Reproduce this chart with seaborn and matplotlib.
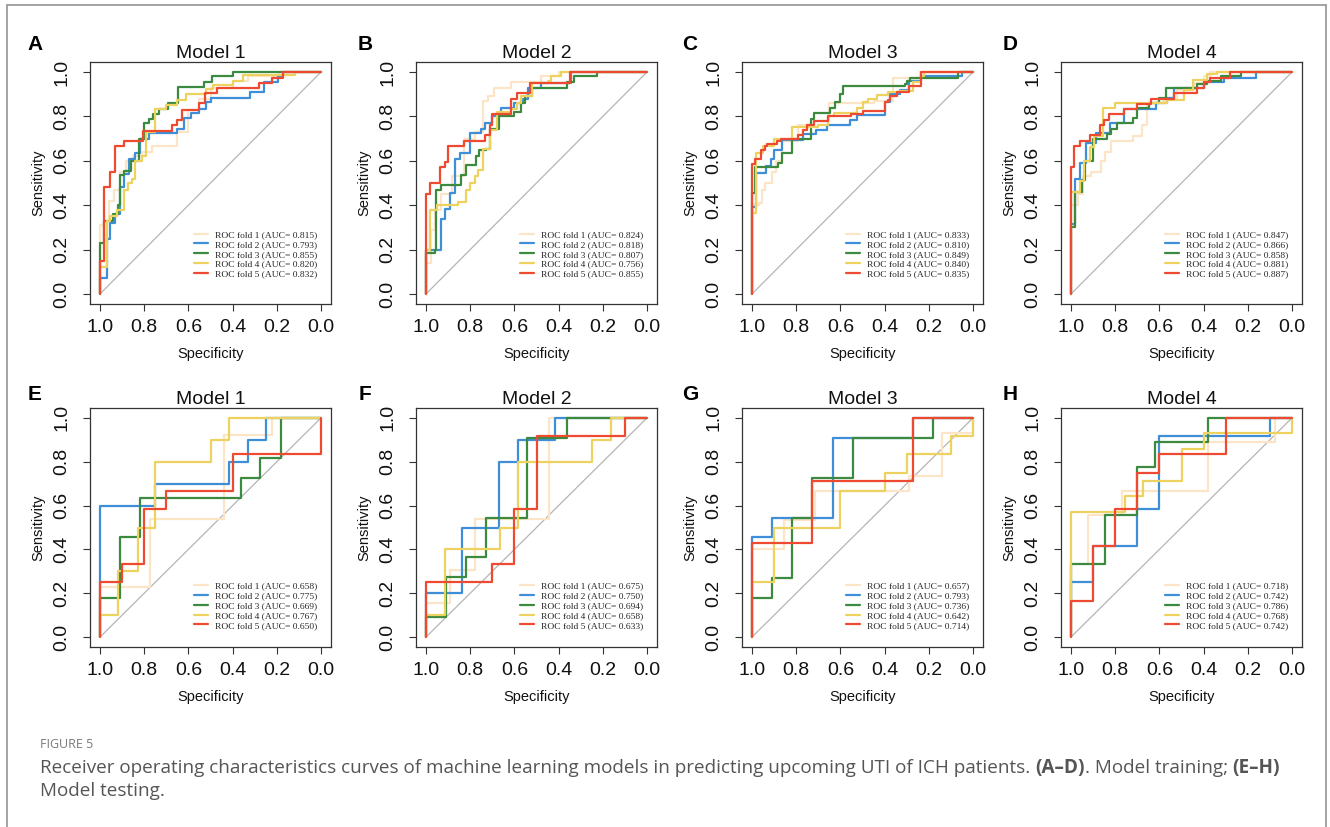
import matplotlib
matplotlib.use("Agg")
import matplotlib.pyplot as plt
import seaborn as sns
import pandas as pd
from matplotlib.lines import Line2D
from matplotlib.font_manager import FontProperties

# ROC step curves: each fold is a list of (specificity, sensitivity) corners,
# sensitivity level held until that specificity (curve starts at (1, 0))
A_steps = [
    [(0.98, 0.31), (0.96, 0.33), (0.935, 0.42), (0.91, 0.47), (0.88, 0.55), (0.85, 0.6), (0.81, 0.62),
     (0.765, 0.64), (0.65, 0.665), (0.6, 0.73), (0.55, 0.83), (0.5, 0.88), (0.4, 0.93), (0.33, 0.96),
     (0.19, 0.98), (0, 1)],
    [(0.97, 0.07), (0.955, 0.25), (0.93, 0.32), (0.91, 0.36), (0.89, 0.48), (0.87, 0.54), (0.84, 0.61),
     (0.82, 0.635), (0.78, 0.7), (0.65, 0.725), (0.62, 0.745), (0.59, 0.795), (0.55, 0.815), (0.52, 0.835),
     (0.5, 0.865), (0.32, 0.885), (0.26, 0.91), (0.195, 0.955), (0.17, 0.98), (0, 1)],
    [(0.98, 0.23), (0.94, 0.33), (0.92, 0.36), (0.91, 0.4), (0.89, 0.535), (0.86, 0.555), (0.825, 0.6),
     (0.8, 0.7), (0.78, 0.77), (0.76, 0.79), (0.735, 0.81), (0.69, 0.835), (0.645, 0.86), (0.53, 0.933),
     (0.495, 0.957), (0.4, 0.98), (0, 1)],
    [(0.97, 0.12), (0.955, 0.33), (0.925, 0.35), (0.89, 0.38), (0.875, 0.47), (0.855, 0.5), (0.84, 0.52),
     (0.81, 0.6), (0.79, 0.62), (0.75, 0.73), (0.7, 0.835), (0.65, 0.85), (0.61, 0.875), (0.52, 0.9),
     (0.49, 0.925), (0.4, 0.94), (0.355, 0.96), (0.12, 0.985), (0, 1)],
    [(0.98, 0.15), (0.955, 0.48), (0.93, 0.55), (0.89, 0.667), (0.805, 0.69), (0.675, 0.735), (0.65, 0.76),
     (0.63, 0.785), (0.55, 0.83), (0.525, 0.86), (0.47, 0.905), (0.28, 0.93), (0.22, 0.95), (0.17, 0.975),
     (0, 1)],
]
B_steps = [
    [(0.975, 0.14), (0.96, 0.29), (0.93, 0.38), (0.88, 0.45), (0.83, 0.53), (0.78, 0.7), (0.74, 0.73),
     (0.72, 0.87), (0.69, 0.89), (0.615, 0.93), (0.48, 0.955), (0.4, 0.98), (0, 1)],
    [(0.93, 0.2), (0.915, 0.34), (0.89, 0.385), (0.87, 0.455), (0.845, 0.61), (0.8, 0.635), (0.75, 0.725),
     (0.735, 0.745), (0.7, 0.77), (0.675, 0.8), (0.66, 0.815), (0.6, 0.84), (0.56, 0.86), (0.54, 0.88),
     (0.48, 0.93), (0.345, 0.95), (0, 1)],
    [(0.96, 0.185), (0.955, 0.2), (0.93, 0.47), (0.84, 0.49), (0.82, 0.535), (0.775, 0.58), (0.76, 0.62),
     (0.73, 0.65), (0.71, 0.655), (0.67, 0.745), (0.6, 0.8), (0.57, 0.82), (0.55, 0.86), (0.52, 0.89),
     (0.36, 0.93), (0.33, 0.955), (0.225, 0.98), (0, 1)],
    [(0.98, 0.2), (0.95, 0.38), (0.855, 0.4), (0.82, 0.415), (0.8, 0.47), (0.78, 0.5), (0.765, 0.53),
     (0.74, 0.56), (0.71, 0.655), (0.68, 0.74), (0.615, 0.82), (0.59, 0.835), (0.57, 0.86), (0.52, 0.89),
     (0.45, 0.95), (0.435, 0.96), (0.39, 0.98), (0, 1)],
    [(0.98, 0.45), (0.935, 0.5), (0.915, 0.57), (0.9, 0.595), (0.83, 0.665), (0.735, 0.69), (0.71, 0.715),
     (0.7, 0.76), (0.615, 0.81), (0.59, 0.88), (0.53, 0.905), (0.35, 0.95), (0, 1)],
]
C_steps = [
    [(0.97, 0.4), (0.955, 0.41), (0.94, 0.47), (0.91, 0.5), (0.89, 0.55), (0.865, 0.6), (0.79, 0.69),
     (0.72, 0.76), (0.65, 0.78), (0.45, 0.86), (0.36, 0.87), (0.24, 0.975), (0, 1)],
    [(0.98, 0.39), (0.935, 0.545), (0.915, 0.575), (0.9, 0.61), (0.865, 0.65), (0.77, 0.695), (0.71, 0.72),
     (0.66, 0.74), (0.555, 0.76), (0.525, 0.785), (0.4, 0.805), (0.375, 0.865), (0.33, 0.9), (0.29, 0.92),
     (0.235, 0.96), (0.05, 0.98), (0, 1)],
    [(0.985, 0.455), (0.88, 0.57), (0.865, 0.59), (0.82, 0.635), (0.735, 0.7), (0.72, 0.79), (0.645, 0.815),
     (0.625, 0.84), (0.6, 0.865), (0.59, 0.9), (0.31, 0.935), (0.3, 0.945), (0.285, 0.96), (0.07, 0.975),
     (0, 1)],
    [(0.98, 0.365), (0.95, 0.635), (0.9, 0.665), (0.82, 0.7), (0.7, 0.75), (0.655, 0.76), (0.63, 0.8),
     (0.525, 0.815), (0.5, 0.84), (0.475, 0.865), (0.435, 0.88), (0.385, 0.895), (0.33, 0.91),
     (0.27, 0.915), (0.235, 0.955), (0.22, 0.98), (0, 1)],
    [(0.985, 0.585), (0.96, 0.61), (0.94, 0.65), (0.93, 0.665), (0.885, 0.675), (0.87, 0.69), (0.79, 0.7),
     (0.77, 0.715), (0.75, 0.74), (0.72, 0.76), (0.655, 0.78), (0.55, 0.8), (0.5, 0.81), (0.4, 0.825),
     (0.385, 0.865), (0.375, 0.875), (0.345, 0.89), (0.29, 0.91), (0.235, 0.935), (0, 1)],
]
D_steps = [
    [(0.97, 0.4), (0.945, 0.45), (0.91, 0.53), (0.865, 0.55), (0.845, 0.6), (0.82, 0.64), (0.72, 0.69),
     (0.68, 0.71), (0.655, 0.76), (0.58, 0.86), (0.52, 0.88), (0.445, 0.92), (0.4, 0.95), (0.37, 0.98),
     (0, 1)],
    [(0.98, 0.315), (0.96, 0.52), (0.93, 0.59), (0.885, 0.68), (0.825, 0.725), (0.76, 0.77), (0.615, 0.835),
     (0.565, 0.86), (0.535, 0.885), (0.4, 0.93), (0.31, 0.955), (0.165, 0.975), (0, 1)],
    [(0.98, 0.3), (0.95, 0.46), (0.935, 0.515), (0.9, 0.6), (0.835, 0.7), (0.82, 0.72), (0.79, 0.745),
     (0.72, 0.77), (0.7, 0.795), (0.645, 0.84), (0.6, 0.86), (0.57, 0.885), (0.43, 0.93), (0.385, 0.945),
     (0.32, 0.96), (0.23, 0.98), (0, 1)],
    [(0.96, 0.46), (0.94, 0.51), (0.915, 0.6), (0.895, 0.66), (0.855, 0.71), (0.8, 0.84), (0.565, 0.86),
     (0.49, 0.875), (0.45, 0.92), (0.385, 0.965), (0.34, 0.99), (0, 1)],
    [(0.985, 0.57), (0.96, 0.665), (0.915, 0.69), (0.87, 0.715), (0.85, 0.76), (0.83, 0.785), (0.76, 0.81),
     (0.7, 0.835), (0.64, 0.855), (0.535, 0.88), (0.43, 0.905), (0.4, 0.93), (0.37, 0.955), (0.28, 0.975),
     (0, 1)],
]
E_steps = [
    [(0.775, 0.23), (0.44, 0.54), (0.22, 0.92), (0, 1)],
    [(0.75, 0.6), (0.415, 0.7), (0.33, 0.8), (0.25, 0.9), (0, 1)],
    [(0.91, 0.18), (0.82, 0.455), (0.36, 0.636), (0.275, 0.727), (0.18, 0.818), (0, 1)],
    [(0.92, 0.1), (0.83, 0.3), (0.75, 0.5), (0.5, 0.8), (0.415, 0.9), (0, 1)],
    [(0.9, 0.25), (0.8, 0.333), (0.7, 0.583), (0.4, 0.667), (0, 0.833), (0, 1)],
]
F_steps = [
    [(0.89, 0.154), (0.78, 0.308), (0.445, 0.54), (0, 1)],
    [(0.835, 0.2), (0.67, 0.5), (0.585, 0.8), (0.415, 0.9), (0, 1)],
    [(0.91, 0.09), (0.82, 0.273), (0.73, 0.364), (0.545, 0.545), (0.36, 0.91), (0, 1)],
    [(0.915, 0.1), (0.665, 0.4), (0.585, 0.5), (0.25, 0.8), (0.165, 0.9), (0, 1)],
    [(0.7, 0.25), (0.6, 0.333), (0.5, 0.583), (0.1, 0.917), (0, 1)],
]
G_steps = [
    [(0.855, 0.4), (0.715, 0.533), (0.29, 0.667), (0.14, 0.733), (0, 0.933), (0, 1)],
    [(0.91, 0.455), (0.635, 0.545), (0.27, 0.91), (0, 1)],
    [(0.91, 0.18), (0.82, 0.27), (0.73, 0.545), (0.545, 0.727), (0.18, 0.91), (0, 1)],
    [(0.9, 0.25), (0.6, 0.5), (0.4, 0.667), (0.3, 0.75), (0.1, 0.833), (0, 0.917), (0, 1)],
    [(0.73, 0.43), (0.27, 0.714), (0, 1)],
]
H_steps = [
    [(0.925, 0.333), (0.77, 0.556), (0.38, 0.667), (0.075, 0.889), (0, 1)],
    [(0.9, 0.25), (0.7, 0.417), (0.6, 0.583), (0.1, 0.917), (0, 1)],
    [(0.845, 0.333), (0.7, 0.556), (0.62, 0.778), (0.38, 0.889), (0, 1)],
    [(0.755, 0.571), (0.675, 0.643), (0.5, 0.714), (0.4, 0.857), (0, 0.929), (0, 1)],
    [(0.9, 0.167), (0.8, 0.417), (0.7, 0.583), (0.6, 0.75), (0.3, 0.833), (0, 1)],
]

A_auc = [0.815, 0.793, 0.855, 0.820, 0.832]
B_auc = [0.824, 0.818, 0.807, 0.756, 0.855]
C_auc = [0.833, 0.810, 0.849, 0.840, 0.835]
D_auc = [0.847, 0.866, 0.858, 0.881, 0.887]
E_auc = [0.658, 0.775, 0.669, 0.767, 0.650]
F_auc = [0.675, 0.750, 0.694, 0.658, 0.633]
G_auc = [0.657, 0.793, 0.736, 0.642, 0.714]
H_auc = [0.718, 0.742, 0.786, 0.768, 0.742]

panel_letters = ["A", "B", "C", "D", "E", "F", "G", "H"]
panel_titles = ["Model 1", "Model 2", "Model 3", "Model 4"] * 2
fold_names = ["fold 1", "fold 2", "fold 3", "fold 4", "fold 5"]
fold_colors = ["#FCE4C6", "#3F8FD8", "#3C8A3F", "#EDD260", "#EE4A32"]
tick_vals = [0.0, 0.2, 0.4, 0.6, 0.8, 1.0]

all_steps = [A_steps, B_steps, C_steps, D_steps, E_steps, F_steps, G_steps, H_steps]
all_auc = [A_auc, B_auc, C_auc, D_auc, E_auc, F_auc, G_auc, H_auc]

sns.set_theme(style="ticks")
plt.rcParams["font.family"] = ["Liberation Sans", "DejaVu Sans"]

W, H = 1330, 827
fig = plt.figure(figsize=(13.3, 8.27), dpi=100)

col_left = [90, 416, 742, 1061]
row_top = [62, 408]
row_h = [242, 239]
ax_w = 241
legend_y = [0.105, 0.072]
letter_x = [35, 365, 690, 1010]
letter_y = [45, 394]

serif = FontProperties(family="Liberation Serif", size=6.8)
palette = dict(zip(fold_names, fold_colors))

for i, (steps, aucs) in enumerate(zip(all_steps, all_auc)):
    r, c = divmod(i, 4)
    ax = fig.add_axes([col_left[c] / W, 1 - (row_top[r] + row_h[r]) / H, ax_w / W, row_h[r] / H])

    rows = []
    for name, pts in zip(fold_names, steps):
        rows.append((1.0, 0.0, name))
        for s, t in pts:
            rows.append((s, t, name))
    df = pd.DataFrame(rows, columns=["spec", "sens", "fold"])

    ax.plot([1, 0], [0, 1], color="#b5b5b5", lw=0.9, zorder=1)
    sns.lineplot(data=df, x="spec", y="sens", hue="fold", hue_order=fold_names, palette=palette,
                 sort=False, estimator=None, drawstyle="steps-pre", lw=1.6, legend=False, ax=ax)

    ax.set_xlim(1.045, -0.045)
    ax.set_ylim(-0.045, 1.045)
    ax.set_xticks(tick_vals[::-1])
    ax.set_xticklabels([f"{v:.1f}" for v in tick_vals[::-1]])
    ax.set_yticks(tick_vals)
    ax.set_yticklabels([f"{v:.1f}" for v in tick_vals], rotation=90, va="center")
    ax.tick_params(axis="both", length=5, width=0.8, color="#333333", labelsize=14, labelcolor="#111111")
    ax.tick_params(axis="x", pad=6)
    ax.tick_params(axis="y", pad=9)
    for sp in ax.spines.values():
        sp.set_color("#333333")
        sp.set_linewidth(0.9)

    ax.set_xlabel("Specificity", fontsize=10.5, labelpad=8, color="#111111")
    ax.set_ylabel("Sensitivity", fontsize=10.5, labelpad=6, color="#111111")
    ax.set_title(panel_titles[i], fontsize=14, pad=3, color="#111111")

    handles = [Line2D([0], [0], color=col, lw=1.6) for col in fold_colors]
    labels = [f"ROC fold {k + 1} (AUC= {a:.3f})" for k, a in enumerate(aucs)]
    ax.legend(handles, labels, loc="lower left", bbox_to_anchor=(0.43, legend_y[r]), frameon=False,
              prop=serif, handlelength=1.5, handletextpad=0.8, labelspacing=0.14, borderpad=0,
              borderaxespad=0)

    fig.text(letter_x[c] / W, 1 - letter_y[r] / H, panel_letters[i], fontsize=15, fontweight="bold",
             ha="center", va="center", color="#000000")

# outer frame
frame_kw = dict(transform=fig.transFigure, color="#9c9c9c", lw=1.3)
fig.add_artist(Line2D([7 / W, 7 / W], [0, 1 - 5 / H], **frame_kw))
fig.add_artist(Line2D([7 / W, 1326 / W], [1 - 5 / H, 1 - 5 / H], **frame_kw))
fig.add_artist(Line2D([1326 / W, 1326 / W], [0, 1 - 5 / H], **frame_kw))

# caption
cap_font = ["Open Sans", "DejaVu Sans"]
fig.text(40 / W, 1 - 744 / H, "FIGURE 5", fontsize=9, color="#7a7a7a", family=cap_font,
         ha="left", va="center")

fig.canvas.draw()
renderer = fig.canvas.get_renderer()


def write_pieces(pieces, x_px, y_px, size):
    x = x_px / W
    for txt, bold in pieces:
        t = fig.text(x, 1 - y_px / H, txt, fontsize=size, color="#555555", family=cap_font,
                     fontweight="bold" if bold else "normal", ha="left", va="center")
        bb = t.get_window_extent(renderer=renderer)
        x += bb.width / W


write_pieces([
    ("Receiver operating characteristics curves of machine learning models in predicting upcoming "
     "UTI of ICH patients. ", False),
    ("(A\u2013D)", True),
    (". Model training; ", False),
    ("(E\u2013H)", True),
], 40, 768, 13.6)
write_pieces([("Model testing.", False)], 40, 791, 13.6)

fig.savefig("out.png", dpi=100)
